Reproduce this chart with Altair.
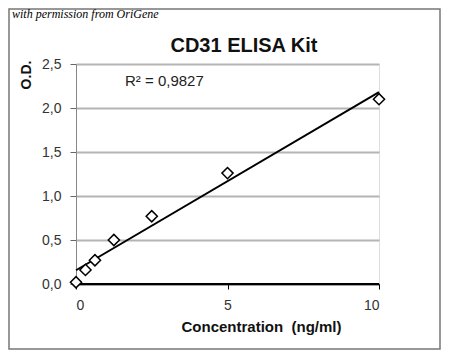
import altair as alt
import pandas as pd

conc = [0, 0.3125, 0.625, 1.25, 2.5, 5, 10]
od = [0.02, 0.16, 0.27, 0.50, 0.77, 1.26, 2.10]
x_ticks = [0, 5, 10]
y_ticks = [0, 0.5, 1.0, 1.5, 2.0, 2.5]

df = pd.DataFrame({"conc": conc, "od": od})

W, H = 303, 220
FONT = "Liberation Sans"

xenc = alt.X("conc:Q", scale=alt.Scale(domain=[0, 10], nice=False),
             axis=alt.Axis(values=x_ticks, grid=False, title="Concentration\u00a0\u00a0(ng/ml)",
                           titleFont=FONT, titleFontSize=15, titleFontWeight="bold",
                           titleColor="#111", titleX=185, titleY=35,
                           labelFont=FONT, labelFontSize=14, labelColor="#333",
                           labelPadding=9, tickSize=5, tickColor="black",
                           domainColor="black", domainWidth=1.5))
yenc = alt.Y("od:Q", scale=alt.Scale(domain=[0, 2.5], nice=False),
             axis=alt.Axis(values=y_ticks, grid=True, gridColor="#b4b4b4", gridWidth=2,
                           title=None, labelFont=FONT, labelFontSize=14, labelColor="#333",
                           labelPadding=9, tickSize=6, tickColor="#666",
                           domainColor="#888", domainWidth=1,
                           labelExpr="replace(format(datum.value, '.1f'), '.', ',')"))

line = alt.Chart(df).transform_regression("conc", "od").mark_line(
    color="black", strokeWidth=2).encode(x=xenc, y=yenc)

pts = alt.Chart(df).mark_point(shape="diamond", size=125, filled=True, fill="white",
                               stroke="black", strokeWidth=1.5, opacity=1).encode(
    x="conc:Q", y="od:Q")

zero = alt.Chart(df).mark_rule(color="black", strokeWidth=1.5).encode(
    x=alt.value(0), x2=alt.value(W), y=alt.value(H))

def txt(s, x, y, **kw):
    return alt.Chart(pd.DataFrame({"t": [s]})).mark_text(**kw).encode(
        text="t:N", x=alt.value(x), y=alt.value(y))

title = txt("CD31 ELISA Kit", 168, -12, font=FONT, fontSize=20, fontWeight="bold",
            align="center", baseline="alphabetic", color="#111")
perm = txt("with permission from OriGene", -64, -46, font="Liberation Serif", fontSize=12,
           fontStyle="italic", align="left", baseline="alphabetic", color="black")
ylab = txt("O.D.", -49, 11, font=FONT, fontSize=14, fontWeight="bold", angle=270,
           align="center", baseline="middle", color="#111")
r2 = txt("R² = 0,9827", 49, 22, font=FONT, fontSize=15, align="left",
         baseline="alphabetic", color="#222")

border = alt.Chart(pd.DataFrame({"a": [0]})).mark_rect(
    fill="transparent", stroke="#777", strokeWidth=1.5).encode(
    x=alt.value(-67), x2=alt.value(364), y=alt.value(-55), y2=alt.value(285))

chart = alt.layer(border, line, zero, pts, title, perm, ylab, r2).properties(
    width=W, height=H,
    autosize=alt.AutoSizeParams(type="none"),
    padding={"left": 68, "top": 56, "right": 62, "bottom": 66},
).configure_view(stroke=None).configure(background="white")

chart.save("out.html", embed_options={"renderer": "svg", "actions": False})
